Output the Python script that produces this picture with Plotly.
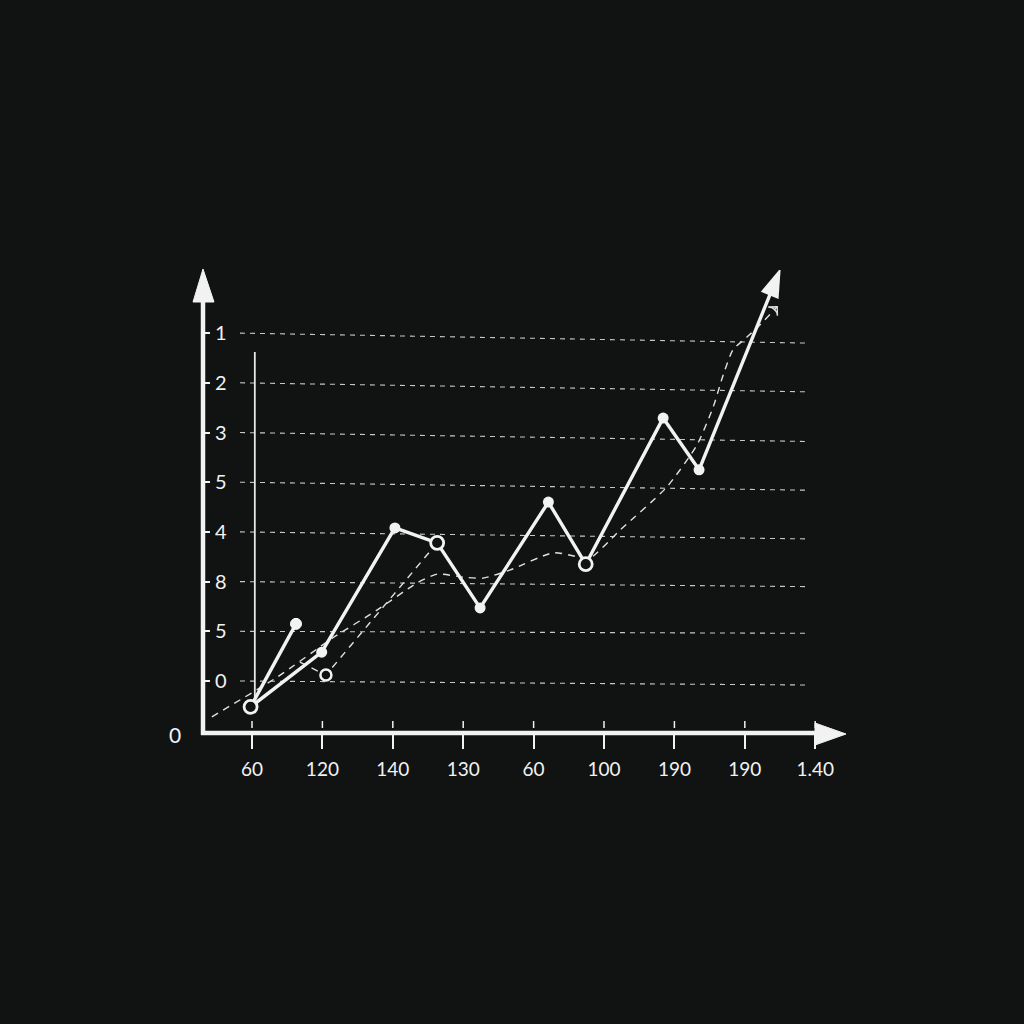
import plotly.graph_objects as go

# ---------------- data ----------------
x_labels = ["60", "120", "140", "130", "60", "100", "190", "190", "1.40"]
x_ticks = list(range(len(x_labels)))
y_labels = ["0", "5", "8", "4", "5", "3", "2", "1"]          # bottom -> top
y_ticks = list(range(len(y_labels)))

main_x = [-0.02, 0.99, 2.03, 2.63, 3.24, 4.21, 4.74, 5.84, 6.35, 7.51]
main_y = [-0.52, 0.58, 3.08, 2.78, 1.47, 3.60, 2.35, 5.29, 4.25, 8.31]
main_kind = ["open", "dot", "dot", "open", "dot", "dot", "open", "dot", "dot", "arrow"]

branch_x = [-0.02, 0.625]
branch_y = [-0.52, 1.15]

trend_x = [-0.57, 0.36, 1.15, 1.78, 2.34, 2.63, 3.00, 3.28, 3.66, 4.28, 4.66, 4.80,
           5.23, 5.89, 6.32, 6.55, 6.68, 6.83, 7.03, 7.17, 7.46]
trend_y = [-0.72, 0.08, 0.87, 1.43, 1.97, 2.15, 2.09, 2.07, 2.23, 2.58, 2.49, 2.47,
           3.04, 3.90, 4.75, 5.51, 6.10, 6.66, 6.92, 7.10, 7.53]

link_x = [0.68, 1.05, 2.63]
link_y = [0.38, 0.12, 2.78]

guide_x = [0.04, 0.04]
guide_y = [-0.38, 6.62]

grid_tilt = [0.08, 0.04, 0.10, 0.14, 0.16, 0.18, 0.18, 0.20]   # hand-drawn slope per gridline

# ---------------- styling / layout ----------------
BG = "#111313"
FG = "#f2f2f2"
W = H = 1024
L, R, T, B = 203, 179, 270, 291
X_RANGE = [-0.696, 8.423]
Y_RANGE = [-1.046, 8.270]
pw, ph = W - L - R, H - T - B


def px(xp):  # pixel x -> paper
    return (xp - L) / pw


def py(yp):  # pixel y -> paper
    return (H - B - yp) / ph


fig = go.Figure()

# thin inner guide line
fig.add_trace(go.Scatter(x=guide_x, y=guide_y, mode="lines",
                         line=dict(color="#e6e6e6", width=1.8), hoverinfo="skip"))

# dashed trend line with small open arrow
trend_sizes = [0] * (len(trend_x) - 1) + [9]
fig.add_trace(go.Scatter(x=trend_x, y=trend_y, mode="lines+markers",
                         line=dict(color="#e0e0e0", width=1.4, dash="7px,6px", shape="spline",
                                   smoothing=0.6),
                         marker=dict(symbol="arrow-wide-open", angleref="previous", size=trend_sizes,
                                     opacity=1, color="#e0e0e0",
                                     line=dict(color="#e0e0e0", width=1.4)),
                         hoverinfo="skip"))

# dashed link line
fig.add_trace(go.Scatter(x=link_x, y=link_y, mode="lines+markers",
                         line=dict(color="#e0e0e0", width=1.4, dash="7px,6px"),
                         marker=dict(symbol="circle", size=[0, 11, 0], color=BG, opacity=1,
                                     line=dict(color=FG, width=[0, 2.5, 0])),
                         hoverinfo="skip"))

# branch
fig.add_trace(go.Scatter(x=branch_x, y=branch_y, mode="lines+markers",
                         line=dict(color=FG, width=3.4),
                         marker=dict(symbol="circle", size=[0, 11], color=FG, opacity=1),
                         hoverinfo="skip"))

# main series: final segment carries the arrowhead
sym = {"open": "circle", "dot": "circle", "arrow": "arrow"}
size = {"open": 13, "dot": 11, "arrow": 31}
col = {"open": BG, "dot": FG, "arrow": FG}
lw = {"open": 2.8, "dot": 0, "arrow": 0}
fig.add_trace(go.Scatter(x=main_x[-2:], y=main_y[-2:], mode="lines+markers",
                         line=dict(color=FG, width=3.4),
                         marker=dict(symbol="arrow", angleref="previous", size=[0, size["arrow"]],
                                     color=FG, opacity=1, line=dict(width=0)),
                         hoverinfo="skip"))
pts = [k != "arrow" for k in main_kind]
mx = [v for v, p in zip(main_x, pts) if p]
my = [v for v, p in zip(main_y, pts) if p]
mk = [k for k, p in zip(main_kind, pts) if p]
fig.add_trace(go.Scatter(x=mx, y=my, mode="lines+markers",
                         line=dict(color=FG, width=3.4),
                         marker=dict(symbol=[sym[k] for k in mk],
                                     size=[size[k] for k in mk],
                                     color=[col[k] for k in mk],
                                     opacity=1,
                                     line=dict(color=FG, width=[lw[k] for k in mk])),
                         hoverinfo="skip"))

shapes = []
# dashed gridlines
gx0, gx1 = (240 - 252) / 70.4, (805 - 252) / 70.4
for j, t in zip(y_ticks, grid_tilt):
    shapes.append(dict(type="line", xref="x", yref="y", x0=gx0, x1=gx1, y0=j, y1=j - t,
                       line=dict(color="#c8c8c8", width=1.1, dash="5px,5px"), layer="below"))
# upper halves of x ticks
for i in x_ticks:
    shapes.append(dict(type="line", xref="x", yref="paper", x0=i, x1=i, y0=py(728), y1=py(721),
                       line=dict(color=FG, width=1.5)))
# axis lines
shapes.append(dict(type="line", xref="paper", yref="paper", x0=px(203), x1=px(203),
                   y0=py(735), y1=py(298), line=dict(color=FG, width=4.5)))
shapes.append(dict(type="line", xref="paper", yref="paper", x0=px(201), x1=px(822),
                   y0=py(733), y1=py(733), line=dict(color=FG, width=4.5)))
# axis arrowheads
shapes.append(dict(type="path", xref="paper", yref="paper",
                   path=f"M{px(203)},{py(269)} L{px(193)},{py(302)} L{px(214)},{py(302)} Z",
                   fillcolor=FG, line=dict(color=FG, width=1)))
shapes.append(dict(type="path", xref="paper", yref="paper",
                   path=f"M{px(846)},{py(734)} L{px(815)},{py(723)} L{px(815)},{py(745)} Z",
                   fillcolor=FG, line=dict(color=FG, width=1)))

fig.update_layout(
    width=W, height=H,
    margin=dict(l=L, r=R, t=T, b=B, pad=0),
    paper_bgcolor=BG, plot_bgcolor=BG,
    showlegend=False,
    shapes=shapes,
    font=dict(family="Lato, Open Sans, sans-serif", color=FG),
    xaxis=dict(range=X_RANGE, showgrid=False, zeroline=False, showline=False,
               tickmode="array", tickvals=x_ticks, ticktext=x_labels,
               ticks="outside", ticklen=15, tickwidth=1.5, tickcolor=FG,
               tickfont=dict(size=19, color=FG), ticklabelstandoff=4),
    yaxis=dict(range=Y_RANGE, showgrid=False, zeroline=False, showline=False,
               tickmode="array", tickvals=y_ticks, ticktext=y_labels,
               ticks="inside", ticklen=7, tickwidth=2, tickcolor=FG,
               ticklabelposition="inside", ticklabelstandoff=6,
               tickfont=dict(size=20, color=FG)),
    annotations=[dict(text="0", xref="paper", yref="paper", x=px(175), y=py(734),
                      showarrow=False, font=dict(size=21, color=FG),
                      xanchor="center", yanchor="middle")],
)

fig.write_html(
    "out.html",
    config={"displayModeBar": False},
    post_script=(f"document.body.style.margin='0';"
                 f"document.body.style.background='{BG}';"
                 f"document.documentElement.style.background='{BG}';"),
)
